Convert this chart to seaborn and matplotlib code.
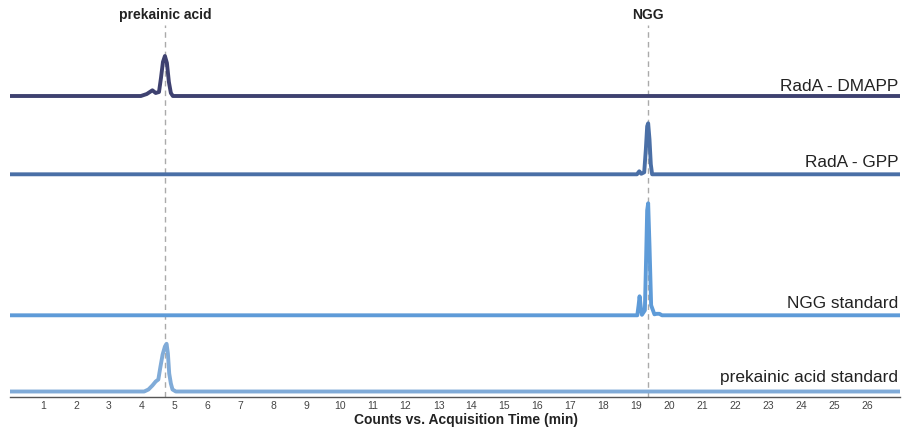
import matplotlib
matplotlib.use("Agg")
import matplotlib.pyplot as plt
import seaborn as sns
import pandas as pd

# ---- data (time in min, intensity in relative units) ----
dmapp_t = [0, 3.97, 4.15, 4.32, 4.42, 4.52, 4.58, 4.64, 4.70, 4.76, 4.82, 4.88, 4.94, 27]
dmapp_i = [0, 0, 2, 5.7, 3, 4, 18, 34, 40, 33, 14, 3, 0, 0]

gpp_t = [0, 19.02, 19.09, 19.15, 19.24, 19.29, 19.33, 19.36, 19.40, 19.44, 19.48, 27]
gpp_i = [0, 0, 3, 0.5, 2, 25, 48, 51, 35, 10, 0, 0]

ngg_t = [0, 19.03, 19.07, 19.10, 19.13, 19.17, 19.26, 19.30, 19.33, 19.36, 19.40, 19.45,
         19.55, 19.62, 19.70, 19.78, 27]
ngg_i = [0, 0, 10, 19, 10, 0.5, 5, 60, 105, 112, 70, 10, 1, 1.5, 1.5, 0, 0]

pka_t = [0, 4.07, 4.20, 4.32, 4.42, 4.50, 4.56, 4.63, 4.70, 4.75, 4.79, 4.83, 4.88, 4.93, 5.03, 27]
pka_i = [0, 0, 2, 6, 10, 12, 24, 37, 45, 47.7, 38, 18, 8, 2, 0, 0]

series_names = ["RadA - DMAPP", "RadA - GPP", "NGG standard", "prekainic acid standard"]
marker_names = ["prekainic acid", "NGG"]
marker_times = [4.70, 19.36]
tick_values = list(range(1, 27))

# ---- layout / style ----
offsets = [301, 222.7, 81.7, 5.5]
label_y = [306, 230.3, 88.7, 15.3]
colors = ["#3e4170", "#4a6fa6", "#5e9bd8", "#80abd8"]

sns.set_theme(style="white")
plt.rcParams["font.family"] = ["Liberation Sans", "DejaVu Sans"]

fig = plt.figure(figsize=(9.02, 4.30), dpi=100)
ax = fig.add_axes([10 / 902, 33 / 430, 890 / 902, 372 / 430])

frames = []
for name, t, i, off in zip(series_names,
                           [dmapp_t, gpp_t, ngg_t, pka_t],
                           [dmapp_i, gpp_i, ngg_i, pka_i],
                           offsets):
    frames.append(pd.DataFrame({"time": t, "y": [v + off for v in i], "series": name}))
df = pd.concat(frames, ignore_index=True)

for mt in marker_times:
    ax.axvline(mt, color="#aaaaaa", linestyle=(0, (4, 3)), linewidth=1.0, zorder=1)

sns.lineplot(data=df, x="time", y="y", hue="series", palette=dict(zip(series_names, colors)),
             linewidth=2.8, legend=False, sort=False, ax=ax, zorder=3)

for name, ly in zip(series_names, label_y):
    ax.text(26.95, ly, name, ha="right", va="baseline", fontsize=12.4, color="#222222")

for name, mt in zip(marker_names, marker_times):
    ax.text(mt, 382, name, ha="center", va="center", fontsize=10, fontweight="bold",
            color="#222222", clip_on=False)

ax.set_xlim(0, 27)
ax.set_ylim(0, 372)
ax.set_xticks(tick_values)
ax.set_xticklabels([str(v) for v in tick_values], fontsize=7.5, color="#444444")
ax.set_yticks([])
ax.set_ylabel("")
ax.set_xlabel("Counts vs. Acquisition Time (min)", fontsize=10, fontweight="bold",
              color="#222222")
ax.xaxis.set_label_coords(456 / 890, -0.042)
ax.tick_params(axis="x", length=0, pad=3)
for s in ["top", "right", "left"]:
    ax.spines[s].set_visible(False)
ax.spines["bottom"].set_color("#555555")
ax.spines["bottom"].set_linewidth(1.0)

fig.savefig("out.png", dpi=100)
